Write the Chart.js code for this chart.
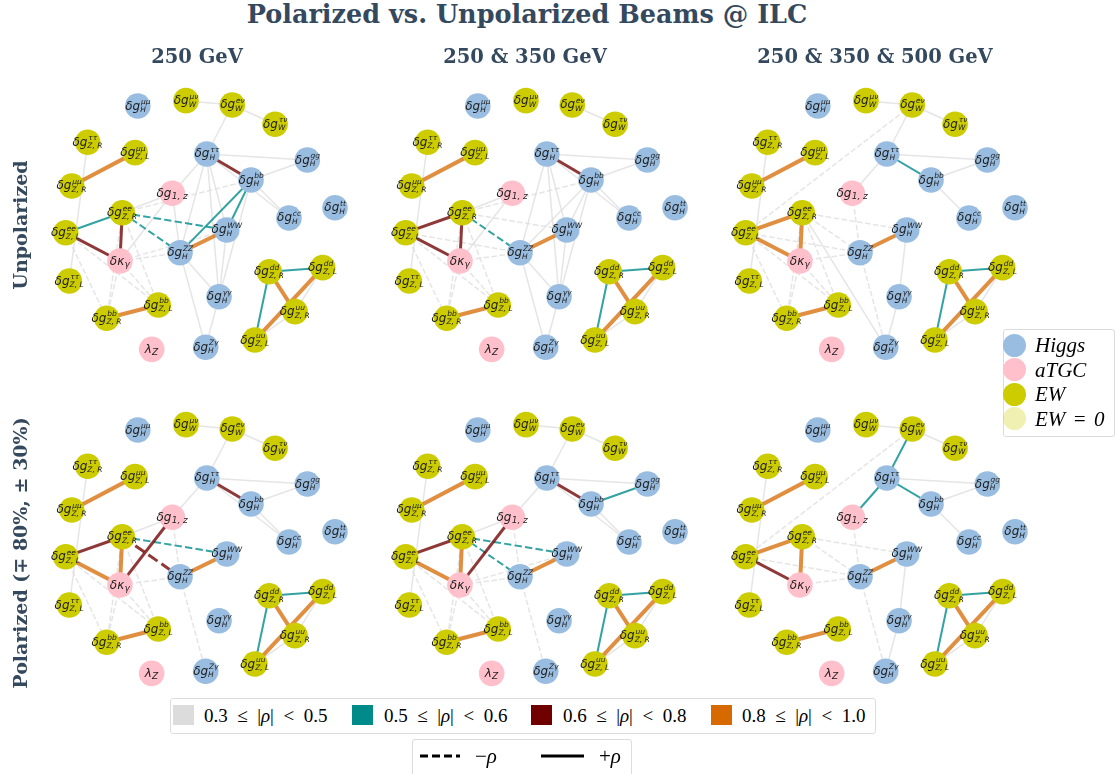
<!DOCTYPE html>
<html>
<head>
<meta charset="utf-8">
<script src="https://cdn.jsdelivr.net/npm/chart.js@4.4.1/dist/chart.umd.min.js"></script>
<style>
  html, body { margin: 0; padding: 0; background: #fff; }
  #stage { position: relative; width: 1116px; height: 774px; overflow: hidden; }
  .panel { position: absolute; }
  .ttl { position: absolute; font-family: "DejaVu Serif", serif; font-weight: bold; color: #34495e; white-space: nowrap; line-height: 1; }
  .box { position: absolute; border: 1px solid #dcdcdc; border-radius: 3px; background: #fff; box-sizing: border-box; }
  .lt { position: absolute; font-family: "Liberation Serif", serif; font-size: 19px; color: #000; white-space: pre; line-height: 1; }
  .sw { position: absolute; }
</style>
</head>
<body>
<div id="stage"></div>
<script>
// ---------------- data ----------------
const COLUMN_TITLES = ['250 GeV', '250 & 350 GeV', '250 & 350 & 500 GeV'];
const ROW_TITLES = ['Unpolarized', 'Polarized (\u2213 80%, \u00b1 30%)'];
const MAIN_TITLE = 'Polarized vs. Unpolarized Beams @ ILC';

// coefficient ids, their group and label pieces (base, superscript, subscript)
const NODE_IDS   = ['Hmm','Wmn','Wen','Wtn','ZRtt','ZLmm','Htt','Hgg','Hbb','ZRmm','g1z','Htop','ZRee','Hcc',
                    'ZLee','HWW','HZZ','kg','ZRdd','ZLdd','ZLtt','Hyy','ZLbb','ZRuu','ZRbb','ZLuu','lz','HZy'];
const NODE_GROUP = ['H','E','E','E','E','E','H','H','H','E','A','H','E','H',
                    'E','H','H','A','E','E','E','H','E','E','E','E','A','H'];
const NODE_BASE  = ['δg','δg','δg','δg','δg','δg','δg','δg','δg','δg','δg','δg','δg','δg',
                    'δg','δg','δg','δκ','δg','δg','δg','δg','δg','δg','δg','δg','λ','δg'];
const NODE_SUP   = ['μμ','μν','eν','τν','ττ','μμ','ττ','gg','bb','μμ','','tt','ee','cc',
                    'ee','WW','ZZ','','dd','dd','ττ','γγ','bb','uu','bb','uu','','Zγ'];
const NODE_SUB   = ['H','W','W','W','Z, R','Z, L','H','H','H','Z, R','1, z','H','Z, R','H',
                    'Z, L','H','H','γ','Z, R','Z, L','Z, L','H','Z, L','Z, R','Z, R','Z, L','Z','H'];
// graph layout coordinates (shared by all panels)
const NODE_X = [-0.461,-0.104, 0.239, 0.556,-0.832,-0.481, 0.050, 0.795, 0.378,-0.950,-0.205, 1.000,-0.576, 0.659,
                -0.995, 0.198,-0.148,-0.593, 0.513, 0.909,-0.968, 0.141,-0.309, 0.704,-0.691, 0.407,-0.358, 0.042];
const NODE_Y = [ 0.881, 0.921, 0.889, 0.746, 0.613, 0.536, 0.526, 0.481, 0.333, 0.289, 0.235, 0.128, 0.091, 0.052,
                -0.057,-0.037,-0.205,-0.267,-0.346,-0.316,-0.415,-0.531,-0.593,-0.642,-0.691,-0.852,-0.921,-0.906];

// correlations shown as edges: [coefficient a, coefficient b, rho]
const QUARK_LINKS = [['ZRdd','ZLdd',0.55],['ZRdd','ZLuu',0.55],['ZRdd','ZRuu',0.86],['ZLdd','ZLuu',0.86],
                     ['ZLdd','ZRuu',0.35],['ZRuu','ZLuu',0.35]];

const RHO_250_UNPOL = [
  ['Wmn','Wen',0.35],['Wen','Wtn',0.35],['Wen','Htt',0.33],['ZRtt','ZLtt',0.34],['ZLmm','ZRmm',0.86],
  ['Htt','Hbb',0.66],['Htt','Hgg',0.34],['Hbb','Hgg',0.33],['Hbb','Hcc',0.40],['Htt','Hcc',0.32],
  ['Htt','g1z',0.33],['Htt','HZZ',0.34],['Htt','HWW',0.35],['Htt','Hyy',0.36],['Hbb','Hyy',0.35],
  ['Hbb','HZZ',0.56],['Hbb','HWW',0.54],['HWW','HZZ',0.84],['HWW','Hyy',0.37],['HZZ','Hyy',0.33],
  ['HZZ','HZy',0.32],['Hyy','HZy',0.34],['g1z','kg',0.31],['g1z','ZRee',0.33],['ZRee','Hbb',-0.31],
  ['g1z','HZZ',0.32],['ZLee','ZRee',0.55],['ZLee','kg',0.68],['ZRee','kg',0.70],['ZRee','HWW',-0.57],
  ['ZRee','HZZ',-0.53],['kg','HZZ',-0.34],['kg','HWW',-0.31],['kg','ZRbb',-0.38],['ZRee','ZRbb',-0.33],
  ['kg','ZLbb',-0.36],['ZLee','ZRbb',-0.32],['ZLee','ZLbb',-0.31],['ZRee','ZLbb',-0.34],['ZRbb','ZLbb',0.88]
];
const RHO_350_UNPOL = [
  ['Wen','Wtn',0.34],['ZRtt','ZLtt',0.34],['ZLmm','ZRmm',0.86],
  ['Htt','Hbb',0.67],['Htt','Hgg',0.34],['Hbb','Hgg',0.33],['Hbb','Hcc',0.40],['Htt','Hcc',0.32],
  ['Htt','HZZ',0.33],['Htt','HWW',0.34],['Htt','Hyy',0.36],['Hbb','Hyy',0.35],['Hbb','HZZ',0.33],['Hbb','HWW',0.34],
  ['HWW','HZZ',0.84],['HWW','Hyy',0.37],['HZZ','Hyy',0.33],['HZZ','HZy',0.32],['Hyy','HZy',0.34],
  ['g1z','kg',0.31],['g1z','ZRee',0.33],['ZRee','Hbb',-0.31],
  ['ZLee','ZRee',0.66],['ZLee','kg',0.70],['ZRee','kg',0.72],['ZRee','HZZ',-0.54],['ZRee','HWW',-0.33],
  ['kg','HZZ',-0.34],['ZLee','HZZ',-0.31],['kg','ZRbb',-0.37],['ZRee','ZRbb',-0.33],['kg','ZLbb',-0.36],
  ['ZLee','ZRbb',-0.32],['ZLee','ZLbb',-0.31],['ZRee','ZLbb',-0.34],['ZRbb','ZLbb',0.87]
];
const RHO_500_UNPOL = [
  ['Wmn','Wen',0.34],['Wen','Wtn',0.35],['Wen','Htt',0.32],['Wen','ZLee',-0.31],
  ['Htt','g1z',0.33],['Htt','Hbb',0.53],['Htt','Hgg',0.34],['Hbb','Hgg',0.33],['Hbb','Hcc',0.36],
  ['ZRtt','ZLtt',0.34],['ZLmm','ZRmm',0.86],['ZLee','ZRee',0.84],['ZLee','kg',0.85],['ZRee','kg',0.88],
  ['g1z','HZZ',-0.32],['HWW','HZZ',0.83],['HWW','Hyy',0.34],['Hyy','HZy',0.33],['HZZ','HZy',-0.31],
  ['ZRee','HZy',0.31],['ZLee','HZZ',-0.33],['ZRee','HZZ',-0.34],['kg','HZZ',-0.36],['ZRee','HWW',-0.32],
  ['ZLee','ZRbb',-0.32],['ZLee','ZLbb',-0.31],['kg','ZRbb',-0.37],['ZRee','ZRbb',-0.33],['kg','ZLbb',-0.35],
  ['ZRee','ZLbb',-0.34],['ZRbb','ZLbb',0.87]
];
const RHO_250_POL = [
  ['Wmn','Wen',0.35],['Wen','Wtn',0.35],['Wen','Htt',0.33],['ZRtt','ZLtt',0.34],['ZLmm','ZRmm',0.86],
  ['Htt','Hbb',0.66],['Htt','Hgg',0.34],['Hbb','Hgg',0.33],['Hbb','Hcc',0.40],['Htt','Hcc',0.32],
  ['Htt','g1z',0.33],['g1z','ZRee',0.33],['g1z','kg',0.67],['g1z','HZZ',-0.32],
  ['ZLee','ZRee',0.66],['ZRee','HWW',-0.55],['ZRee','HZZ',-0.64],['ZRee','kg',0.86],['ZLee','kg',0.84],
  ['HWW','HZZ',0.85],['kg','HZZ',-0.33],['HZZ','HZy',-0.32],
  ['ZLee','ZRbb',-0.32],['ZLee','ZLbb',-0.31],['kg','ZRbb',-0.37],['ZRee','ZRbb',-0.33],['kg','ZLbb',-0.35],
  ['ZRee','ZLbb',-0.34],['ZRbb','ZLbb',0.87]
];
const RHO_350_POL = [
  ['Wmn','Wen',0.35],['Wen','Wtn',0.35],['Wen','Htt',0.33],['ZRtt','ZLtt',0.34],['ZLmm','ZRmm',0.86],
  ['Htt','Hbb',0.66],['Htt','Hgg',0.34],['Hbb','Hgg',0.53],['Hbb','Hcc',0.40],['Htt','Hcc',0.32],
  ['Htt','g1z',0.33],['g1z','ZRee',0.33],['g1z','kg',0.67],['g1z','HZZ',-0.32],
  ['ZLee','ZRee',0.66],['ZRee','HWW',-0.56],['ZRee','HZZ',-0.54],['ZRee','kg',0.86],['ZLee','kg',0.84],
  ['HWW','HZZ',0.85],['kg','HZZ',-0.33],['kg','HWW',-0.31],['HZZ','HZy',-0.32],
  ['ZLee','ZRbb',-0.32],['ZLee','ZLbb',-0.31],['kg','ZRbb',-0.37],['ZRee','ZRbb',-0.33],['kg','ZLbb',-0.35],
  ['ZRee','ZLbb',-0.34],['ZRbb','ZLbb',0.87]
];
const RHO_500_POL = [
  ['Wmn','Wen',0.34],['Wen','Wtn',0.35],['Wen','Htt',0.53],['Htt','g1z',0.54],['Htt','Hbb',0.52],
  ['Htt','Hgg',0.34],['Hbb','Hgg',0.33],['Hbb','Hcc',0.35],['Wen','ZLee',-0.31],
  ['ZRtt','ZLtt',0.34],['ZLmm','ZRmm',0.86],['ZLee','ZRee',0.85],['ZRee','kg',0.87],['ZLee','kg',0.68],
  ['ZRee','HWW',-0.32],['ZRee','HZZ',-0.33],['ZLee','HZZ',-0.32],['kg','HZZ',-0.35],['g1z','HZZ',-0.31],
  ['HZZ','HZy',-0.32],['HWW','HZZ',0.84],['HWW','Hyy',0.34],['Hyy','HZy',0.33],['ZRbb','ZLbb',0.87]
];
const PANEL_RHO = [RHO_250_UNPOL, RHO_350_UNPOL, RHO_500_UNPOL, RHO_250_POL, RHO_350_POL, RHO_500_POL];

// correlation bins for the edge legend
const BIN_LOWER  = [0.3, 0.5, 0.6, 0.8];
const BIN_UPPER  = [0.5, 0.6, 0.8, 1.0];
const GROUP_NAMES = ['Higgs', 'aTGC', 'EW', 'EW = 0'];

// ---------------- styles ----------------
const GROUP_COLOR = { H: '#99bde0', A: '#ffc0cb', E: '#cccc00' };
const GROUP_LEGEND_COLORS = ['#99bde0', '#ffc0cb', '#cccc00', 'rgba(204,204,0,0.3)'];
const BIN_COLOR  = ['#dcdcdc', '#008b8b', '#700000', '#d66a00'];
const BIN_EDGE   = ['rgba(220,220,220,0.75)', 'rgba(0,139,139,0.8)', 'rgba(112,0,0,0.78)', 'rgba(214,106,0,0.75)'];
const BIN_WIDTH  = [1.5, 2, 3, 4];
const NODE_RADIUS = 12.8;
const PX_PER_UNIT = 135, PANEL_W = 340, PANEL_H = 324;

function binOf(r) {
  const a = Math.abs(r);
  for (let i = BIN_LOWER.length - 1; i >= 0; i--) if (a >= BIN_LOWER[i]) return i;
  return -1;
}

// node label: italic base with stacked super/subscript
function drawNodeLabel(ctx, i, cx, cy) {
  const base = NODE_BASE[i], sup = NODE_SUP[i], sub = NODE_SUB[i];
  ctx.save();
  ctx.fillStyle = '#1e1e1e';
  ctx.textBaseline = 'alphabetic';
  ctx.textAlign = 'left';
  const bigFont = 'italic 12px "DejaVu Sans"';
  const smallFont = sup ? 'italic 7.5px "DejaVu Sans"' : 'italic 9px "DejaVu Sans"';
  ctx.font = bigFont;
  const wb = ctx.measureText(base).width;
  ctx.font = smallFont;
  const wsup = sup ? ctx.measureText(sup).width : 0;
  const wsub = ctx.measureText(sub).width;
  const w = wb + Math.max(wsup, wsub) + 0.5;
  const x0 = cx - w / 2;
  const bl = cy + 3.5;
  ctx.font = bigFont;
  ctx.fillText(base, x0, bl);
  ctx.font = smallFont;
  if (sup) {
    ctx.fillText(sup, x0 + wb + 0.8, bl - 5.5);
    ctx.fillText(sub, x0 + wb, bl + 2.5);
  } else {
    ctx.fillText(sub, x0 + wb + 0.2, bl + 2.5);
  }
  ctx.restore();
}

const nodeLabels = {
  id: 'nodeLabels',
  afterDatasetsDraw(chart) {
    const { ctx, scales: { x, y } } = chart;
    NODE_IDS.forEach((id, i) => {
      drawNodeLabel(ctx, i, x.getPixelForValue(NODE_X[i]), y.getPixelForValue(NODE_Y[i]));
    });
  }
};

function point(id) {
  const i = NODE_IDS.indexOf(id);
  return { x: NODE_X[i], y: NODE_Y[i] };
}

function buildPanel(stage, rhoList, left, top) {
  const cv = document.createElement('canvas');
  cv.width = PANEL_W; cv.height = PANEL_H;
  cv.className = 'panel';
  cv.style.left = left + 'px'; cv.style.top = top + 'px';
  cv.style.width = PANEL_W + 'px'; cv.style.height = PANEL_H + 'px';
  stage.appendChild(cv);

  const links = rhoList.concat(QUARK_LINKS);
  const edgeSets = links.map(([a, b, r]) => {
    const k = binOf(r);
    const w = BIN_WIDTH[k];
    return {
      data: [point(a), point(b)],
      showLine: true,
      borderColor: BIN_EDGE[k],
      borderWidth: w,
      borderDash: r < 0 ? [3.7 * w, 1.6 * w] : [],
      pointRadius: 0,
      pointHoverRadius: 0,
      order: 10 - k,
      clip: false
    };
  });
  const nodeSet = {
    data: NODE_IDS.map((id, i) => ({ x: NODE_X[i], y: NODE_Y[i] })),
    pointRadius: NODE_RADIUS,
    pointHoverRadius: NODE_RADIUS,
    pointBackgroundColor: NODE_GROUP.map(g => GROUP_COLOR[g]),
    pointBorderWidth: 0,
    borderColor: 'rgba(0,0,0,0)',
    order: 0,
    clip: false
  };
  const xr = PANEL_W / 2 / PX_PER_UNIT, yr = PANEL_H / 2 / PX_PER_UNIT;
  new Chart(cv, {
    type: 'scatter',
    data: { datasets: [nodeSet, ...edgeSets] },
    options: {
      responsive: false,
      animation: false,
      events: [],
      layout: { padding: 0, autoPadding: false },
      plugins: { legend: { display: false }, tooltip: { enabled: false }, title: { display: false } },
      scales: {
        x: { type: 'linear', display: false, min: -xr, max: xr },
        y: { type: 'linear', display: false, min: -yr, max: yr }
      }
    },
    plugins: [nodeLabels]
  });
}

// ---------------- page ----------------
const stage = document.getElementById('stage');
function addDiv(cls, text, css, html) {
  const d = document.createElement('div');
  d.className = cls;
  if (html) d.innerHTML = html; else if (text !== null) d.textContent = text;
  Object.assign(d.style, css);
  stage.appendChild(d);
  return d;
}

const PANEL_CX = [200, 540, 880], PANEL_CY = [225, 549];
PANEL_RHO.forEach((rho, p) => {
  const c = p % 3, r = Math.floor(p / 3);
  buildPanel(stage, rho, PANEL_CX[c] - PANEL_W / 2, PANEL_CY[r] - PANEL_H / 2);
});

addDiv('ttl', MAIN_TITLE, { left: '527px', top: '2px', fontSize: '25.5px', transform: 'translateX(-50%)' });
const COL_X = [197, 525, 875];
COLUMN_TITLES.forEach((t, i) => addDiv('ttl', t, { left: COL_X[i] + 'px', top: '47px', fontSize: '19.5px', transform: 'translateX(-50%)' }));
const ROW_Y = [225, 553];
ROW_TITLES.forEach((t, i) => addDiv('ttl', t, { left: '20px', top: ROW_Y[i] + 'px', fontSize: '19px', transform: 'translate(-50%,-50%) rotate(-90deg)' }));

// group legend
addDiv('box', null, { left: '1003px', top: '329px', width: '112px', height: '108px' });
GROUP_NAMES.forEach((name, i) => {
  const cy = 345 + i * 24.5;
  addDiv('sw', null, { left: '1003px', top: (cy - 11.5) + 'px', width: '23px', height: '23px', borderRadius: '50%', background: GROUP_LEGEND_COLORS[i] });
  addDiv('lt', name, { left: '1035px', top: (cy - 10) + 'px', fontStyle: 'italic', fontSize: '21px', wordSpacing: '2px' });
});

// correlation-strength legend
addDiv('box', null, { left: '170px', top: '698px', width: '706px', height: '36px' });
const SW_X = [173, 352, 531, 711], TXT_X = [204, 384, 563, 742];
BIN_LOWER.forEach((lo, i) => {
  addDiv('sw', null, { left: SW_X[i] + 'px', top: '705px', width: '21px', height: '20px', background: BIN_COLOR[i] });
  addDiv('lt', null, { left: TXT_X[i] + 'px', top: '706px' }, lo.toFixed(1) + '  \u2264  |<i>\u03c1</i>|  <  ' + BIN_UPPER[i].toFixed(1));
});

// sign legend
addDiv('box', null, { left: '412px', top: '739px', width: '220px', height: '45px' });
const sgn = document.createElement('canvas');
sgn.width = 200; sgn.height = 30;
Object.assign(sgn.style, { position: 'absolute', left: '412px', top: '742px' });
stage.appendChild(sgn);
(function () {
  const c = sgn.getContext('2d');
  c.strokeStyle = '#000'; c.lineWidth = 3;
  c.setLineDash([8, 4]); c.beginPath(); c.moveTo(8, 14); c.lineTo(48, 14); c.stroke();
  c.setLineDash([]); c.beginPath(); c.moveTo(129, 14); c.lineTo(172, 14); c.stroke();
})();
addDiv('lt', null, { left: '475px', top: '746px', fontSize: '21px' }, '\u2212<i>\u03c1</i>');
addDiv('lt', null, { left: '599px', top: '746px', fontSize: '21px' }, '+<i>\u03c1</i>');
</script>
</body>
</html>
